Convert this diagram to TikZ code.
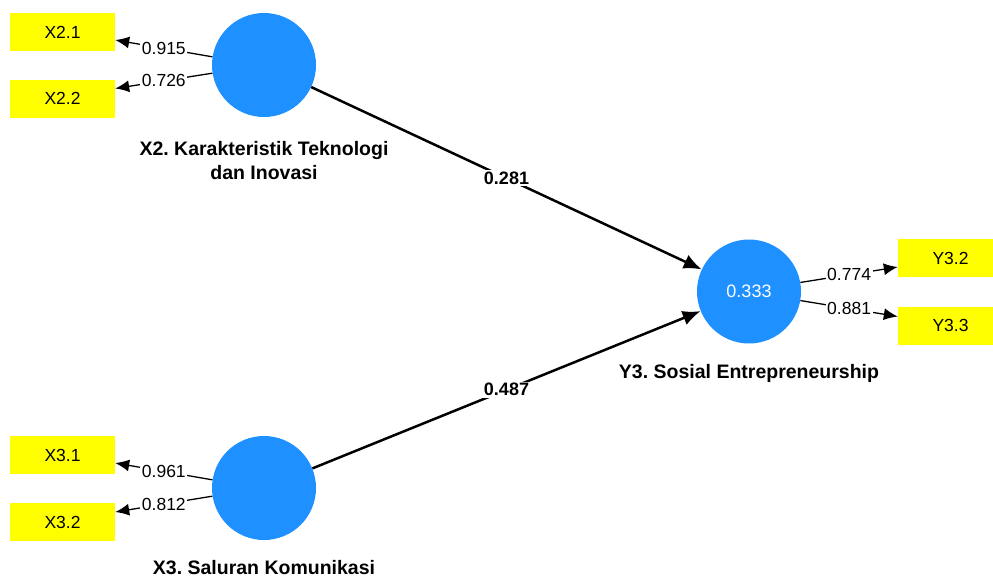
\documentclass[tikz,border=0pt]{standalone}
\usepackage{fontspec}
\setmainfont{Liberation Sans}
\frenchspacing
\usetikzlibrary{arrows.meta,positioning}
\definecolor{lvblue}{HTML}{1E90FF}
\definecolor{mvyellow}{HTML}{FFFF00}
\tikzset{
  >={Latex[length=14pt,width=12pt]},
  latent/.style={circle,fill=lvblue,minimum size=104pt,inner sep=0pt,
    text=white,font=\fontsize{18}{20}\selectfont},
  indicator/.style={rectangle,fill=mvyellow,minimum width=105pt,
    minimum height=38pt,inner sep=0pt,font=\fontsize{17.5}{20}\selectfont},
  loading/.style={->,line width=1.3pt},
  inner/.style={-{Latex[length=18pt,width=15pt]},line width=2.5pt},
  weight/.style={fill=white,inner sep=1.5pt,font=\fontsize{17.5}{20}\selectfont},
  coef/.style={fill=white,inner sep=1.5pt,font=\bfseries\fontsize{18}{20}\selectfont},
  lvname/.style={align=center,inner sep=0pt,font=\bfseries\fontsize{19.5}{24}\selectfont}
}

\begin{document}
\begin{tikzpicture}[x=1pt,y=-1pt]
  \useasboundingbox (0,0) rectangle (993,579);
  \clip (0,0) rectangle (993,579);
  % latent variables
  \node[latent] (x2) at (264,65) {};
  \node[latent] (x3) at (264,488) {};
  \node[latent] (y3) at (749,291.5) {0.333};
  \node[lvname,below=24pt of x2] (x2name) {X2. Karakteristik Teknologi\\dan Inovasi};
  \node[lvname,below=20pt of x3] (x3name) {X3. Saluran Komunikasi};
  \node[lvname,below=20pt of y3] (y3name) {Y3. Sosial Entrepreneurship};
  % indicators
  \node[indicator] (x21) at (62.5,32) {X2.1};
  \node[indicator] (x22) at (62.5,98.5) {X2.2};
  \node[indicator] (x31) at (62.5,455) {X3.1};
  \node[indicator] (x32) at (62.5,522) {X3.2};
  \node[indicator] (y32) at (950.5,258) {Y3.2};
  \node[indicator] (y33) at (950.5,325.5) {Y3.3};
  % outer loadings
  \draw[loading] (x2.171) -- node[weight] {0.915} ([yshift=-8pt]x21.east);
  \draw[loading] (x2.189) -- node[weight] {0.726} ([yshift=10pt]x22.east);
  \draw[loading] (x3.171) -- node[weight] {0.961} ([yshift=-8pt]x31.east);
  \draw[loading] (x3.189) -- node[weight] {0.812} ([yshift=10pt]x32.east);
  \draw[loading] (y3.10) -- node[weight] {0.774} ([yshift=-9pt]y32.west);
  \draw[loading] (y3.-10) -- node[weight] {0.881} ([yshift=9pt]y33.west);
  % path coefficients
  \draw[inner] (x2) -- node[coef] {0.281} (y3);
  \draw[inner] (x3) -- node[coef] {0.487} (y3);
\end{tikzpicture}
\end{document}
